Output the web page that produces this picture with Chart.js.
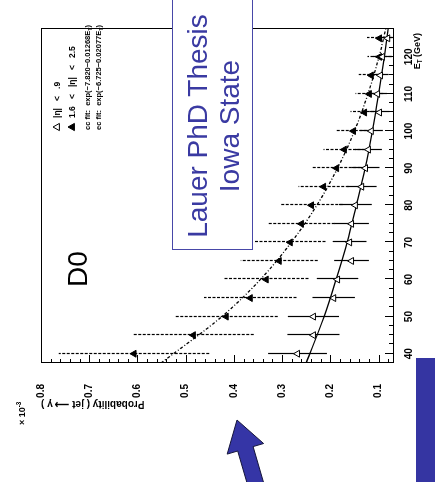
<!DOCTYPE html>
<html>
<head>
<meta charset="utf-8">
<script src="https://cdn.jsdelivr.net/npm/chart.js@4.4.1/dist/chart.umd.min.js"></script>
<style>
  html, body { margin: 0; padding: 0; background: #fff; }
  body { width: 435px; height: 482px; overflow: hidden; position: relative; font-family: "Liberation Sans", Arial, sans-serif; }
  /* la figure d'origine est tournée de 90° dans le sens antihoraire */
  #planche { position: absolute; left: 0; top: 0; width: 482px; height: 435px; transform-origin: 0 0; transform: translate(0, 482px) rotate(-90deg); }
  #graphique { position: absolute; left: 0; top: 0; }
  #d0 { position: absolute; left: 195px; top: 64px; font-size: 28px; line-height: 28px; color: #000; }
  #cadre { position: absolute; left: 232px; top: 172px; width: 270px; height: 81px; box-sizing: border-box; border: 1.5px solid #4848a8; background: #fff; }
  #these { position: absolute; left: 206px; top: 182px; width: 300px; text-align: center; font-size: 28px; line-height: 32px; color: #3a3aa2; }
  #fleche { position: absolute; left: 0; top: 0; }
</style>
</head>
<body>
<div id="planche">
  <canvas id="graphique" width="482" height="435"></canvas>
  <div id="d0">D0</div>
  <div id="cadre"></div>
  <div id="these">Lauer PhD Thesis<br>Iowa State</div>
</div>
<svg id="fleche" width="435" height="482">
  <rect x="416" y="358" width="19" height="124" fill="#3535a2"></rect>
  <polygon points="237,420 263.6,443.5 253.1,446.6 265.7,489.8 250.3,494.2 237.7,451 227.2,454.1" fill="#3535a6" stroke="#15153a" stroke-width="1"></polygon>
</svg>
<script>
// E_T des points (GeV)
const etGeV = [40, 45, 50, 55, 60, 65, 70, 75, 80, 85, 90, 95, 100, 105, 110, 115, 120, 125];
// |eta| < 0.9 (triangles ouverts), probabilite x 10^-3
const probCentrale = [0.268, 0.235, 0.235, 0.193, 0.185, 0.156, 0.160, 0.156, 0.148, 0.135, 0.127, 0.121, 0.115, 0.098, 0.102, 0.096, 0.092, 0.081];
const errCentrale = [0.061, 0.054, 0.053, 0.044, 0.043, 0.036, 0.035, 0.036, 0.034, 0.031, 0.029, 0.028, 0.024, 0.021, 0.020, 0.017, 0.020, 0.012];
// 1.6 < |eta| < 2.5 (triangles pleins)
const probAvant = [0.607, 0.484, 0.416, 0.366, 0.333, 0.306, 0.283, 0.260, 0.239, 0.214, 0.187, 0.171, 0.152, 0.129, 0.119, 0.115, 0.098, 0.098];
const errAvant = [0.156, 0.125, 0.107, 0.096, 0.088, 0.080, 0.073, 0.069, 0.065, 0.052, 0.050, 0.043, 0.037, 0.029, 0.029, 0.026, 0.025, 0.026];
// courbes d'ajustement
const etFit = [37.5, 50, 60, 70, 80, 90, 100, 110, 120, 127.5];
const fitCentrale = [0.250, 0.213, 0.188, 0.165, 0.146, 0.128, 0.113, 0.100, 0.088, 0.080];
const fitAvant = [0.551, 0.425, 0.345, 0.281, 0.228, 0.185, 0.150, 0.122, 0.099, 0.085];
// graduations
const ticksEt = [40, 50, 60, 70, 80, 90, 100, 110, 120];
const ticksProb = [0.1, 0.2, 0.3, 0.4, 0.5, 0.6, 0.7, 0.8];

const police = "'Liberation Sans', Arial, sans-serif";

function points(xs, ys) {
  return xs.map((x, i) => ({ x: x, y: ys[i] }));
}

// texte avec indice / exposant (E_T, 10^-3)
function texteRiche(ctx, x, y, morceaux, taille) {
  let cx = x;
  ctx.fillStyle = "#000";
  for (const m of morceaux) {
    if (m.sub) {
      ctx.font = "bold " + (taille * 0.7) + "px " + police;
      ctx.fillText(m.t, cx, y + taille * 0.25);
    } else if (m.sup) {
      ctx.font = "bold " + (taille * 0.7) + "px " + police;
      ctx.fillText(m.t, cx, y - taille * 0.45);
    } else {
      ctx.font = "bold " + taille + "px " + police;
      ctx.fillText(m.t, cx, y);
    }
    cx += ctx.measureText(m.t).width;
  }
  return cx - x;
}

function largeurRiche(ctx, morceaux, taille) {
  let w = 0;
  for (const m of morceaux) {
    ctx.font = "bold " + ((m.sub || m.sup) ? taille * 0.7 : taille) + "px " + police;
    w += ctx.measureText(m.t).width;
  }
  return w;
}

function triangle(ctx, x, y, r, plein) {
  ctx.beginPath();
  ctx.moveTo(x, y - r);
  ctx.lineTo(x + r * 0.9, y + r * 0.6);
  ctx.lineTo(x - r * 0.9, y + r * 0.6);
  ctx.closePath();
  ctx.fillStyle = plein ? "#000" : "#fff";
  ctx.fill();
  ctx.lineWidth = 1;
  ctx.strokeStyle = "#000";
  ctx.stroke();
  ctx.fillStyle = "#000";
}

// barres d'erreur, cadre, graduations internes et legende facon ROOT
const pluginRoot = {
  id: "pluginRoot",
  beforeDatasetsDraw(chart) {
    const ctx = chart.ctx;
    const a = chart.chartArea;
    const sx = chart.scales.x, sy = chart.scales.y;
    ctx.save();
    ctx.beginPath();
    ctx.rect(a.left, a.top, a.right - a.left, a.bottom - a.top);
    ctx.clip();
    ctx.strokeStyle = "#000";
    ctx.lineWidth = 1.2;
    const series = [[probCentrale, errCentrale, []], [probAvant, errAvant, [3, 1.5]]];
    for (const [vals, errs, tirets] of series) {
      ctx.setLineDash(tirets);
      for (let i = 0; i < etGeV.length; i++) {
        const px = Math.round(sx.getPixelForValue(etGeV[i])) + 0.5;
        ctx.beginPath();
        ctx.moveTo(px, sy.getPixelForValue(vals[i] - errs[i]));
        ctx.lineTo(px, sy.getPixelForValue(vals[i] + errs[i]));
        ctx.stroke();
      }
    }
    ctx.restore();
  },
  afterDraw(chart) {
    const ctx = chart.ctx;
    const a = chart.chartArea;
    const sx = chart.scales.x, sy = chart.scales.y;
    ctx.save();
    ctx.strokeStyle = "#000";
    ctx.lineWidth = 1;
    ctx.strokeRect(Math.round(a.left) + 0.5, Math.round(a.top) + 0.5, Math.round(a.right - a.left), Math.round(a.bottom - a.top));
    // graduations vers l'interieur
    ctx.beginPath();
    for (let v = 37.5; v <= 127.5; v += 2.5) {
      const px = Math.round(sx.getPixelForValue(v)) + 0.5;
      const l = v % 10 === 0 ? 8 : 4;
      ctx.moveTo(px, a.bottom);
      ctx.lineTo(px, a.bottom - l);
    }
    for (let k = 4; k <= 40; k++) {
      const py = Math.round(sy.getPixelForValue(k * 0.02)) + 0.5;
      const l = k % 5 === 0 ? 8 : 4;
      ctx.moveTo(a.left, py);
      ctx.lineTo(a.left + l, py);
    }
    ctx.stroke();

    ctx.textBaseline = "alphabetic";
    ctx.textAlign = "left";
    // facteur d'echelle de l'axe vertical
    texteRiche(ctx, 57, 25, [{ t: "× 10" }, { t: "-3", sup: true }], 9);
    // titre de l'axe horizontal
    const titre = [{ t: "E" }, { t: "T", sub: true }, { t: " (GeV)" }];
    texteRiche(ctx, a.right - 4 - largeurRiche(ctx, titre, 9), 420, titre, 9);

    // legende
    triangle(ctx, 355, 57, 4, false);
    texteRiche(ctx, 364, 60, [{ t: "|η|   <   .9" }], 8.5);
    triangle(ctx, 355, 72, 4, true);
    texteRiche(ctx, 364, 75, [{ t: "1.6   <   |η|   <   2.5" }], 8.5);
    texteRiche(ctx, 352, 90, [{ t: "cc fit:  exp(−7.820−0.01268E" }, { t: "T", sub: true }, { t: ")" }], 7.5);
    texteRiche(ctx, 352, 101, [{ t: "ec fit:  exp(−6.725−0.02077E" }, { t: "T", sub: true }, { t: ")" }], 7.5);
    ctx.restore();
  }
};

const donnees = {
  datasets: [
    {
      label: "|η| < .9",
      data: points(etGeV, probCentrale),
      pointStyle: "triangle",
      pointRadius: 4,
      backgroundColor: "#fff",
      borderColor: "#000",
      borderWidth: 1,
      showLine: false
    },
    {
      label: "1.6 < |η| < 2.5",
      data: points(etGeV, probAvant),
      pointStyle: "triangle",
      pointRadius: 4,
      backgroundColor: "#000",
      borderColor: "#000",
      borderWidth: 1,
      showLine: false
    },
    {
      label: "cc fit",
      data: points(etFit, fitCentrale),
      showLine: true,
      pointRadius: 0,
      borderColor: "#000",
      borderWidth: 1.3,
      cubicInterpolationMode: "monotone"
    },
    {
      label: "ec fit",
      data: points(etFit, fitAvant),
      showLine: true,
      pointRadius: 0,
      borderColor: "#000",
      borderWidth: 1.3,
      borderDash: [3, 2, 1, 2],
      cubicInterpolationMode: "monotone"
    }
  ]
};

const config = {
  type: "scatter",
  data: donnees,
  options: {
    responsive: false,
    animation: false,
    devicePixelRatio: 1,
    layout: { padding: { left: 74, top: 41, right: 29, bottom: 0 } },
    plugins: { legend: { display: false }, tooltip: { enabled: false } },
    scales: {
      x: {
        type: "linear",
        position: "bottom",
        min: 37.5,
        max: 127.5,
        grid: { display: false },
        border: { display: false },
        afterBuildTicks: (scale) => { scale.ticks = ticksEt.map(v => ({ value: v })); },
        afterFit: (scale) => { scale.height = 42; },
        ticks: {
          autoSkip: false,
          maxRotation: 0,
          padding: 2,
          color: "#000",
          font: { family: police, size: 10, weight: "bold" },
          callback: (v) => String(v)
        }
      },
      y: {
        type: "linear",
        position: "left",
        min: 0.07,
        max: 0.8,
        grid: { display: false },
        border: { display: false },
        afterBuildTicks: (scale) => { scale.ticks = ticksProb.map(v => ({ value: v })); },
        afterFit: (scale) => { scale.width = 45; },
        title: {
          display: true,
          text: "Probability ( jet ⟶ γ )",
          align: "end",
          color: "#000",
          padding: { top: -2, bottom: 0 },
          font: { family: police, size: 10, weight: "bold" }
        },
        ticks: {
          autoSkip: false,
          padding: 13,
          color: "#000",
          font: { family: police, size: 10, weight: "bold" },
          callback: (v) => v.toFixed(1)
        }
      }
    }
  },
  plugins: [pluginRoot]
};

new Chart(document.querySelector("#graphique"), config);
</script>
</body>
</html>
